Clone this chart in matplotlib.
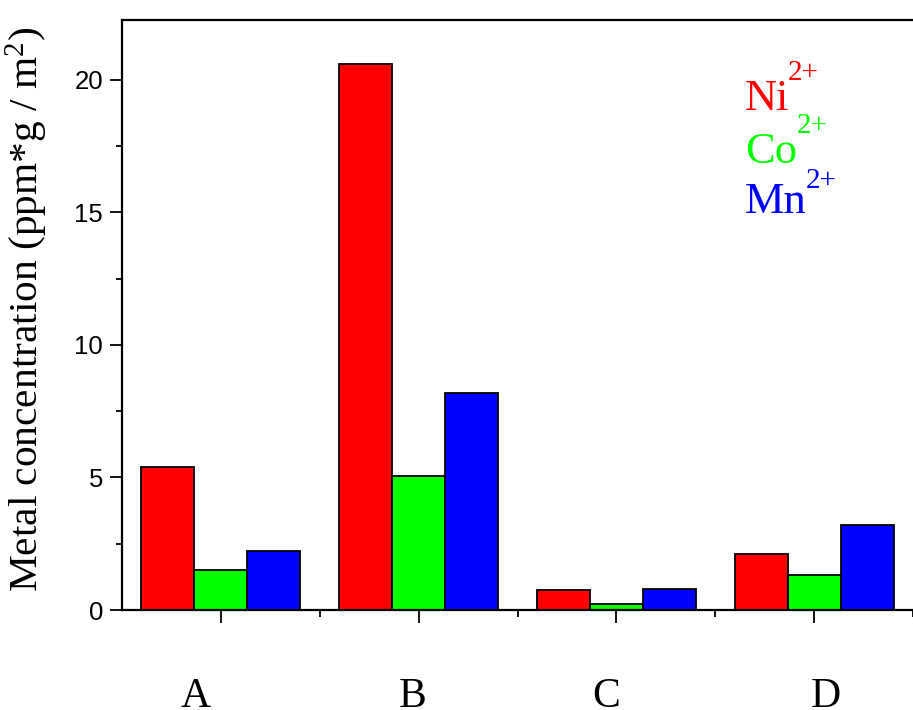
import matplotlib
matplotlib.use("Agg")
import matplotlib.pyplot as plt
import matplotlib.transforms as mtransforms
import numpy as np

plt.rcParams['mathtext.fontset'] = 'custom'
plt.rcParams['mathtext.rm'] = 'Liberation Serif'
plt.rcParams['mathtext.it'] = 'Liberation Serif:italic'

categories = ["A", "B", "C", "D"]
ni = [5.41, 20.6, 0.75, 2.12]
co = [1.51, 5.06, 0.23, 1.32]
mn = [2.24, 8.19, 0.80, 3.22]
series_names = ["Ni", "Co", "Mn"]
series_colors = ["#FF0000", "#00FF00", "#0000FF"]

W, H = 913, 710
fig = plt.figure(figsize=(W / 100, H / 100), dpi=100)
ax = fig.add_axes([122 / W, 1 - 610 / H, (913 - 122) / W, (610 - 20) / H])

x = np.arange(1, len(categories) + 1)
bw = 0.268
for i, (vals, col) in enumerate(zip([ni, co, mn], series_colors)):
    ax.bar(x + (i - 1) * bw, vals, width=bw, color=col, edgecolor="black",
           linewidth=1.3, zorder=2)

ax.set_xlim(0.5, 0.5 + 791 / 200)
ax.set_ylim(0, 22.26)

ax.spines['right'].set_visible(False)
for s in ['left', 'bottom', 'top']:
    ax.spines[s].set_linewidth(1.6)

ax.set_yticks([0, 5, 10, 15, 20])
ax.set_yticks([2.5, 7.5, 12.5, 17.5], minor=True)
ax.set_xticks(x)
ax.set_xticks(x + 0.5, minor=True)
ax.set_xticklabels(categories, fontfamily="Liberation Serif", fontsize=30)
ax.tick_params(axis='x', which='major', direction='out', length=9.5, width=1.3, pad=39)
ax.tick_params(axis='x', which='minor', direction='out', length=5, width=1.3)
ax.tick_params(axis='y', which='major', direction='out', length=8.6, width=1.3, pad=5)
ax.tick_params(axis='y', which='minor', direction='out', length=4.3, width=1.3)
for lab in ax.get_yticklabels():
    lab.set_fontfamily("Liberation Sans")
    lab.set_fontsize(18.5)

# category labels in the reference sit slightly off their ticks
label_shift_px = [-25, -6, -10, 12]
for lab, dx in zip(ax.get_xticklabels(), label_shift_px):
    lab.set_transform(lab.get_transform() +
                      mtransforms.ScaledTranslation(dx / 100, 0, fig.dpi_scale_trans))

ax.set_ylabel(r"Metal concentration (ppm*g / m$\mathregular{^2}$)",
              fontfamily="Liberation Serif", fontsize=29.8)
ax.yaxis.set_label_coords((50 - 122) / 791, (610 - 309) / 590)

# legend-like labels
leg = [(745, 110, 788, 80), (745, 163, 797, 133), (745, 213, 806, 188)]
for (name, col, (lx, ly, sx, sy)) in zip(series_names, series_colors, leg):
    fig.text(lx / W, 1 - ly / H, name, color=col, fontfamily="Liberation Serif",
             fontsize=32, va='baseline', ha='left')
    fig.text(sx / W, 1 - sy / H, "2+", color=col, fontfamily="Liberation Serif",
             fontsize=21, va='baseline', ha='left')

fig.savefig("out.png", dpi=100)
